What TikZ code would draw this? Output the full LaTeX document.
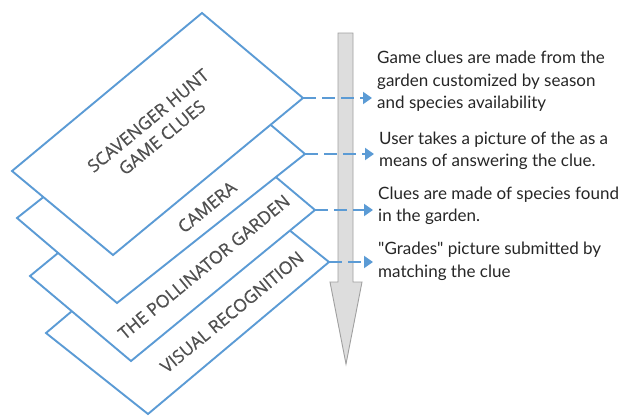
\documentclass[tikz,border=0pt]{standalone}
\usepackage{fontspec}
\setmainfont{Lato}[Ligatures=TeXOff]
\newfontfamily\layerfont{Open Sans}[FakeBold=0.5]
\usetikzlibrary{arrows.meta,positioning}
\definecolor{layerblue}{HTML}{5B9BD5}
\definecolor{layertext}{HTML}{505050}
\definecolor{arrowgray}{HTML}{DDDDDD}
\definecolor{arrowline}{HTML}{A0A0A0}
\tikzset{
  layer/.style={draw=layerblue, line width=1.9pt, fill=white},
  layerlabel/.style={text=layertext, font=\layerfont\fontsize{17.5}{22}\selectfont, rotate=39.5, align=center, inner sep=0pt},
  note/.style={anchor=west, align=left, font=\fontsize{17}{22.5}\selectfont, text=black!85, inner sep=0pt},
  link/.style={draw=layerblue, line width=1.9pt, dash pattern=on 13pt off 6pt, -{Triangle[length=9pt,width=12pt]}, shorten >=5pt}
}

\begin{document}
\begin{tikzpicture}[x=1pt,y=-1pt]
    \useasboundingbox (0,0) rectangle (620,416);

    % Fleche grise
    \draw[fill=arrowgray, draw=arrowline, line width=0.9pt]
        (338,33) -- (353,33) -- (353,282) -- (362,282) -- (346,364) -- (330,282) -- (338,282) -- cycle;

    % Couches (du bas vers le haut)
    \coordinate (vis-r) at (329,262);
    \draw[layer] (227,180) -- (vis-r) -- (148,414) -- (46,333) -- cycle;
    \coordinate (garden-r) at (315,210);
    \draw[layer] (214,125) -- (garden-r) -- (131,361) -- (30,276) -- cycle;
    \coordinate (camera-r) at (305,154);
    \draw[layer] (205,69) -- (camera-r) -- (117,303) -- (17,218) -- cycle;
    \coordinate (clues-r) at (303,98);
    \draw[layer] (202,13) -- (clues-r) -- (113,255) -- (12,171) -- cycle;

    % Etiquettes des couches
    \node[layerlabel] (clues-lbl) at (155,129) {SCAVENGER HUNT\\GAME CLUES};
    \node[layerlabel] (camera-lbl) at (207,207) {CAMERA};
    \node[layerlabel] (garden-lbl) at (204,267) {THE POLLINATOR GARDEN};
    \node[layerlabel] (vis-lbl) at (232,312) {VISUAL RECOGNITION};

    % Descriptions
    \node[note] (clues-note) at (377,81.5) {Game clues are made from the\\garden customized by season\\and species availability};
    \node[note] (camera-note) at (379,151) {User takes a picture of the as a\\means of answering the clue.};
    \node[note] (garden-note) at (378,206) {Clues are made of species found\\in the garden.};
    \node[note] (vis-note) at (378,261.5) {"Grades" picture submitted by\\matching the clue};

    % Liens
    \draw[link] (clues-r) -- (clues-r -| clues-note.west);
    \draw[link] (camera-r) -- (camera-r -| camera-note.west);
    \draw[link] (garden-r) -- (garden-r -| garden-note.west);
    \draw[link] (vis-r) -- (vis-r -| vis-note.west);
\end{tikzpicture}
\end{document}
